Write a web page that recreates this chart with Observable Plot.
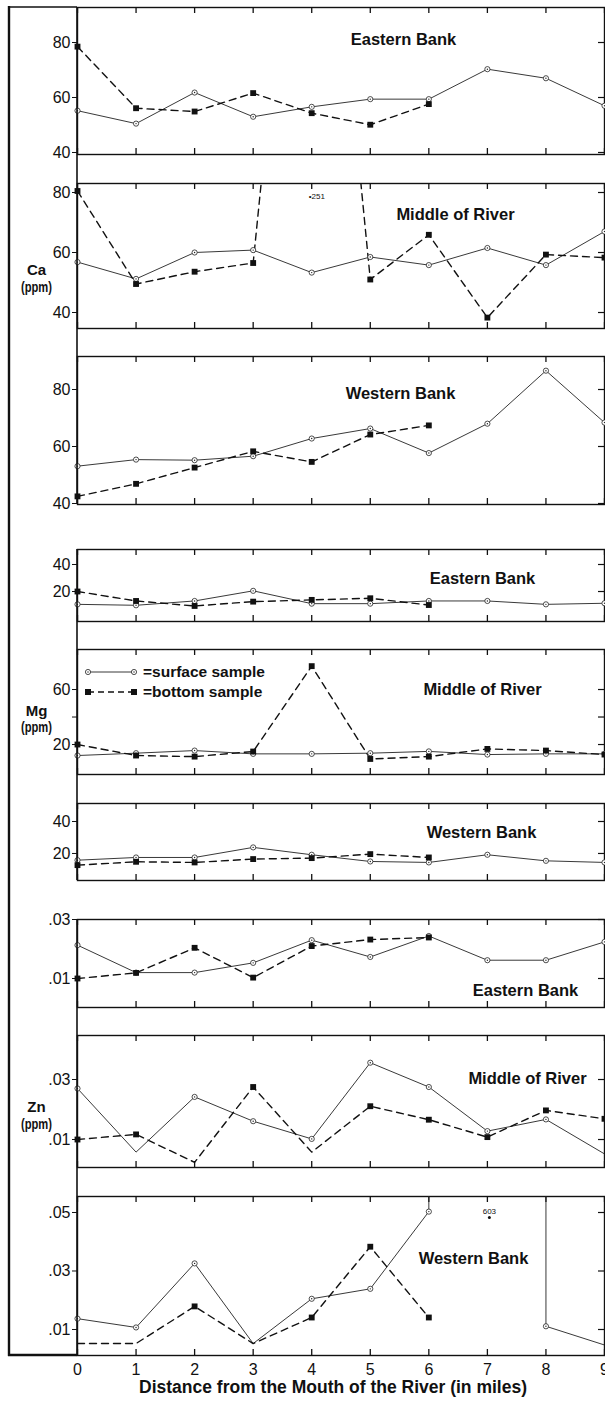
<!DOCTYPE html>
<html>
<head>
<meta charset="utf-8">
<script src="https://cdn.jsdelivr.net/npm/d3@7"></script>
<script src="https://cdn.jsdelivr.net/npm/@observablehq/plot@0.6"></script>
<style>
  body { margin: 0; background: #fff; }
  #page { position: relative; width: 605px; height: 1405px; background: #fff; overflow: hidden; }
  #page svg { position: absolute; left: 0; overflow: visible; }
</style>
</head>
<body>
<div id="page"></div>
<script>
// ---------- data ----------
const miles = [0, 1, 2, 3, 4, 5, 6, 7, 8, 9];
const xTickLabels = ["0", "1", "2", "3", "4", "5", "6", "7", "8", "9"];

const caEasternSurface = [55.2, 50.5, 61.8, 53.0, 56.6, 59.4, 59.4, 70.3, 67.0, 57.0];
const caEasternBottom  = [78.5, 56.1, 54.9, 61.6, 54.3, 50.1, 57.6, null, null, null];
const caMiddleSurface  = [56.8, 51.2, 60.0, 60.8, 53.3, 58.5, 55.8, 61.5, 55.8, 67.0];
const caMiddleBottom   = [80.5, 49.5, 53.6, 56.5, 251, 51.0, 65.9, 38.3, 59.3, 58.3];
const caWesternSurface = [53.1, 55.4, 55.2, 56.6, 62.8, 66.3, 57.7, 68.0, 86.6, 68.4];
const caWesternBottom  = [42.5, 46.9, 52.6, 58.3, 54.6, 64.2, 67.4, null, null, null];

const mgEasternSurface = [10.5, 9.8, 13.0, 20.5, 11.0, 11.0, 13.0, 13.0, 10.5, 11.3];
const mgEasternBottom  = [20.0, 13.0, 9.3, 12.5, 13.8, 15.0, 10.0, null, null, null];
const mgMiddleSurface  = [12.0, 13.7, 15.6, 13.2, 13.2, 13.7, 15.0, 12.7, 13.2, 13.2];
const mgMiddleBottom   = [20.0, 12.0, 11.2, 14.9, 77.0, 9.5, 11.2, 16.8, 15.6, 12.7];
const mgWesternSurface = [15.8, 17.5, 17.5, 23.8, 19.2, 15.0, 14.4, 19.2, 15.4, 14.4];
const mgWesternBottom  = [12.7, 14.8, 14.4, 16.5, 17.1, 19.6, 17.5, null, null, null];

const znEasternSurface = [0.0213, 0.0120, 0.0120, 0.0153, 0.0230, 0.0173, 0.0244, 0.0162, 0.0162, 0.0224];
const znEasternBottom  = [0.0100, 0.0119, 0.0204, 0.0103, 0.0210, 0.0232, 0.0239, null, null, null];
const znMiddleSurface  = [0.0270, 0.0058, 0.0242, 0.0161, 0.0102, 0.0356, 0.0275, 0.0128, 0.0167, 0.0052];
const znMiddleBottom   = [0.0100, 0.0117, 0.0024, 0.0275, 0.0058, 0.0211, 0.0166, 0.0108, 0.0197, 0.0169];
const znWesternSurface = [0.0137, 0.0107, 0.0326, 0.0052, 0.0205, 0.0239, 0.0503, 603, 0.0111, 0.0047];
const znWesternBottom  = [0.0052, 0.0052, 0.0179, 0.0052, 0.0141, 0.0383, 0.0141, null, null, null];

const caTicks = [40, 60, 80];
const mgTicksEW = [20, 40];
const mgTicksM = [20, 40, 60];
const mgLabelsM = ["20", "", "60"];
const znTicksEM = [0.01, 0.03];
const znTicksW = [0.01, 0.03, 0.05];
const znLabelsEM = [".01", ".03"];
const znLabelsW = [".01", ".03", ".05"];

const xTitle = "Distance from the Mouth of the River (in miles)";
const legendSurface = "=surface sample";
const legendBottom = "=bottom sample";
const unitText = "(ppm)";

// ---------- layout ----------
const W = 605, ML = 77, MR = 1;
const SANS = "'Liberation Sans', Arial, Helvetica, sans-serif";
const INK = "#111";

const panels = [
  {group: 0, site: "Eastern Bank", top: 7, bot: 154, domain: [39.27, 92.73], ticks: caTicks, labels: caTicks.map(String), surface: caEasternSurface, deep: caEasternBottom, title: [403, 33]},
  {group: 0, site: "Middle of River", top: 183, bot: 328, domain: [34.67, 83], ticks: caTicks, labels: caTicks.map(String), surface: caMiddleSurface, deep: caMiddleBottom, title: [455, 208], unit: ["Ca", 36, 264, 281], offscale: {mile: 4, label: "•251", dx: -3, dy: 10, anchor: "start"}},
  {group: 0, site: "Western Bank", top: 356, bot: 504, domain: [39.65, 91.58], ticks: caTicks, labels: caTicks.map(String), surface: caWesternSurface, deep: caWesternBottom, title: [400, 387]},
  {group: 1, site: "Eastern Bank", top: 549, bot: 621, domain: [-2.2, 51.1], ticks: mgTicksEW, labels: mgTicksEW.map(String), surface: mgEasternSurface, deep: mgEasternBottom, title: [482, 572]},
  {group: 1, site: "Middle of River", top: 649, bot: 774, domain: [-1.8, 89.1], ticks: mgTicksM, labels: mgLabelsM, surface: mgMiddleSurface, deep: mgMiddleBottom, title: [482, 683], unit: ["Mg", 36, 705, 721]},
  {group: 1, site: "Western Bank", top: 803, bot: 880, domain: [3.1, 51.25], ticks: mgTicksEW, labels: mgTicksEW.map(String), surface: mgWesternSurface, deep: mgWesternBottom, title: [481, 826]},
  {group: 2, site: "Eastern Bank", top: 919, bot: 1007, domain: [0.00017, 0.03], ticks: znTicksEM, labels: znLabelsEM, surface: znEasternSurface, deep: znEasternBottom, title: [525, 984], markerMin: 0.007},
  {group: 2, site: "Middle of River", top: 1035, bot: 1167, domain: [0.00067, 0.04467], ticks: znTicksEM, labels: znLabelsEM, surface: znMiddleSurface, deep: znMiddleBottom, title: [527, 1072], unit: ["Zn", 36, 1101, 1118], markerMin: 0.007},
  {group: 2, site: "Western Bank", top: 1196, bot: 1355, domain: [0.00111, 0.05547], ticks: znTicksW, labels: znLabelsW, surface: znWesternSurface, deep: znWesternBottom, title: [473, 1252], markerMin: 0.007, xAxis: true, offscale: {mile: 7, label: "603", dx: 2, dy: 12, anchor: "middle", dot: 21}}
];

const page = document.getElementById("page");

panels.forEach(p => {
  const h = p.bot - p.top;
  const innerW = W - ML - MR;
  const min = p.markerMin ?? -Infinity;
  const rows = miles.map((m, i) => ({mile: m, surface: p.surface[i], bottom: p.deep[i]}));
  const inside = v => v != null && v >= p.domain[0] && v <= p.domain[1] && v >= min;
  const sRows = rows.filter(d => inside(d.surface));
  const bRows = rows.filter(d => inside(d.bottom));

  const marks = [
    Plot.frame({stroke: INK, strokeWidth: 1.4}),
    Plot.tickX(miles, {x: d => d, insetBottom: h - 6, stroke: INK, strokeWidth: 1.3}),
    Plot.tickX(miles, {x: d => d, insetTop: h - 6, stroke: INK, strokeWidth: 1.3}),
    Plot.tickY(p.ticks, {y: d => d, insetLeft: innerW - 6, stroke: INK, strokeWidth: 1.2}),
    Plot.line(rows, {x: "mile", y: "surface", stroke: "#222", strokeWidth: 0.9, clip: true}),
    Plot.line(rows, {x: "mile", y: "bottom", stroke: INK, strokeWidth: 1.4, strokeDasharray: "7,5", clip: true}),
    Plot.dot(sRows, {x: "mile", y: "surface", r: 2.6, fill: "white", stroke: "#222", strokeWidth: 0.8}),
    Plot.dot(sRows, {x: "mile", y: "surface", r: 0.7, fill: "#222"}),
    Plot.dot(bRows, {x: "mile", y: "bottom", symbol: "square", r: 3.3, fill: INK}),
    Plot.text([p.site], {frameAnchor: "top-left", dx: p.title[0] - ML, dy: p.title[1] - p.top, textAnchor: "middle", fontFamily: SANS, fontWeight: "bold", fontSize: 16.5, fill: INK})
  ];
  if (p.unit) {
    const [el, ux, uy1, uy2] = p.unit;
    marks.push(Plot.text([el], {frameAnchor: "top-left", dx: ux - ML, dy: uy1 - p.top, textAnchor: "middle", fontFamily: SANS, fontWeight: "bold", fontSize: 15, fill: INK}));
    marks.push(Plot.text([unitText], {frameAnchor: "top-left", dx: ux - ML, dy: uy2 - p.top, textAnchor: "middle", fontFamily: SANS, fontWeight: "bold", fontSize: 14.5, fill: INK}));
  }
  if (p.offscale) {
    const o = p.offscale;
    marks.push(Plot.text([o], {x: "mile", frameAnchor: "top", text: "label", dx: o.dx, dy: o.dy, textAnchor: o.anchor, fontFamily: SANS, fontSize: 8, fill: INK}));
    if (o.dot) marks.push(Plot.dot([o], {x: "mile", frameAnchor: "top", dy: o.dot, dx: o.dx, r: 1.5, fill: INK}));
  }
  if (p.xAxis) {
    marks.push(Plot.text([xTitle], {frameAnchor: "bottom", dx: -8, dy: 37, textAnchor: "middle", fontFamily: SANS, fontWeight: "bold", fontSize: 17.5, fill: INK}));
  }

  const svg = Plot.plot({
    width: W, height: h,
    marginLeft: ML, marginRight: MR, marginTop: 0, marginBottom: 0,
    style: {fontFamily: SANS, fontSize: "16px", color: INK, background: "transparent", overflow: "visible"},
    x: p.xAxis
      ? {domain: [0, 9], ticks: miles, tickFormat: d => xTickLabels[d], tickSize: 0, tickPadding: 8, label: null}
      : {domain: [0, 9], axis: null},
    y: {domain: p.domain, ticks: p.ticks, tickFormat: d => p.labels[p.ticks.indexOf(d)], tickSize: 5, tickPadding: 2, label: null},
    marks
  });
  // condensed lettering for the "(ppm)" unit, as in the original figure
  d3.select(svg).selectAll("text")
    .filter(function() { return this.textContent === unitText; })
    .attr("textLength", 31).attr("lengthAdjust", "spacingAndGlyphs");
  svg.style.top = p.top + "px";
  page.appendChild(svg);
});

// ---------- decoration: outer frame, continuous group axes, legend ----------
const deco = d3.select(page).append("svg")
  .attr("width", W).attr("height", 1405)
  .style("top", "0px").style("pointer-events", "none");

const first = panels[0], last = panels[panels.length - 1];
deco.append("line").attr("x1", 9).attr("x2", 9).attr("y1", first.top - 1).attr("y2", last.bot + 1)
  .attr("stroke", INK).attr("stroke-width", 2.4);
deco.append("line").attr("x1", 8).attr("x2", ML).attr("y1", first.top).attr("y2", first.top)
  .attr("stroke", INK).attr("stroke-width", 1.6);
deco.append("line").attr("x1", 8).attr("x2", ML).attr("y1", last.bot).attr("y2", last.bot)
  .attr("stroke", INK).attr("stroke-width", 2.4);

d3.groups(panels, p => p.group).forEach(([g, ps]) => {
  deco.append("line").attr("x1", ML).attr("x2", ML)
    .attr("y1", d3.min(ps, p => p.top)).attr("y2", d3.max(ps, p => p.bot))
    .attr("stroke", INK).attr("stroke-width", 1.6);
});

// legend (inside the Mg "Middle of River" panel)
const lg = deco.append("g");
const ly1 = 672, ly2 = 692, lx1 = 88, lx2 = 134, ltx = 143;
lg.append("line").attr("x1", lx1).attr("x2", lx2).attr("y1", ly1).attr("y2", ly1).attr("stroke", "#222").attr("stroke-width", 0.9);
[lx1, lx2].forEach(x => {
  lg.append("circle").attr("cx", x).attr("cy", ly1).attr("r", 2.6).attr("fill", "white").attr("stroke", "#222").attr("stroke-width", 0.8);
  lg.append("circle").attr("cx", x).attr("cy", ly1).attr("r", 0.7).attr("fill", "#222");
});
lg.append("line").attr("x1", lx1).attr("x2", lx2).attr("y1", ly2).attr("y2", ly2).attr("stroke", INK).attr("stroke-width", 1.4).attr("stroke-dasharray", "6,4");
[lx1, lx2].forEach(x => {
  lg.append("rect").attr("x", x - 3).attr("y", ly2 - 3).attr("width", 6).attr("height", 6).attr("fill", INK);
});
[[legendSurface, ly1], [legendBottom, ly2]].forEach(([t, y]) => {
  lg.append("text").attr("x", ltx).attr("y", y).attr("dy", "0.35em")
    .attr("font-family", SANS).attr("font-weight", "bold").attr("font-size", 15.5)
    .attr("fill", INK).text(t);
});
</script>
</body>
</html>
